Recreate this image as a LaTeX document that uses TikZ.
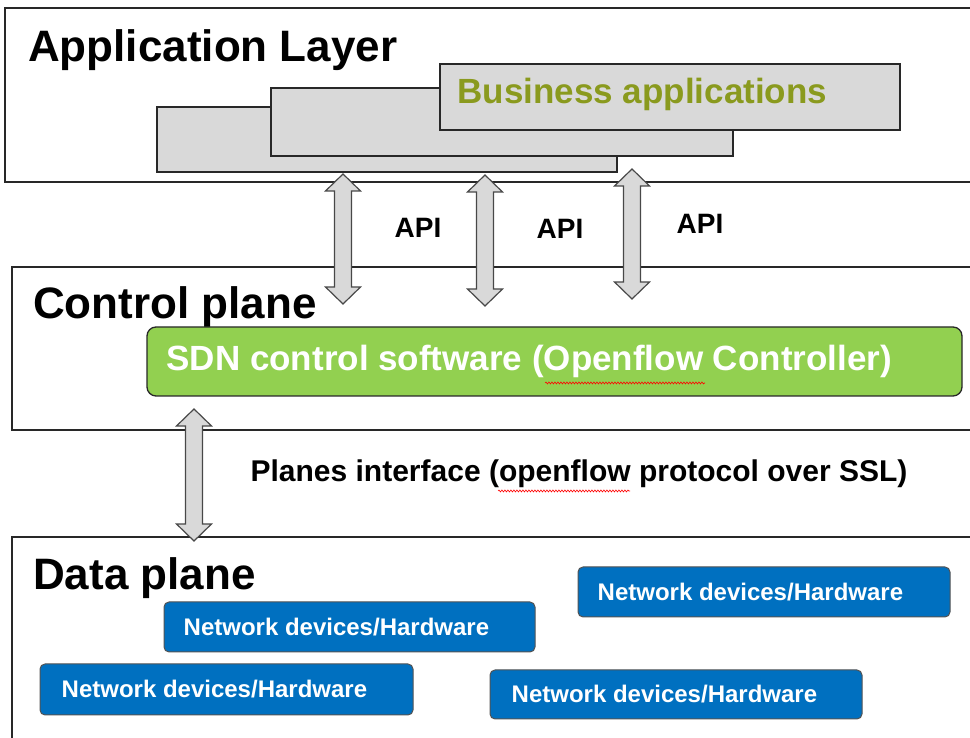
\documentclass[tikz,border=0pt]{standalone}
\usepackage{fontspec}
\setmainfont{Liberation Sans}
\usepackage{tikz}
\usetikzlibrary{calc,decorations.pathmorphing}

\definecolor{appgray}{RGB}{217,217,217}
\definecolor{sdngreen}{RGB}{146,208,80}
\definecolor{devblue}{RGB}{0,112,192}
\definecolor{bizolive}{RGB}{138,154,30}
\definecolor{lineblack}{RGB}{40,40,40}

% block arrow with a head at both ends, #1 = top end, #2 = bottom end
\newcommand{\dblarrow}[2]{%
  \draw[arrowbody] (#1) -- ++(17.5,-17) -- ++(-9,0) -- ($(#2)+(8.5,17)$) -- ++(9,0) -- (#2)
    -- ++(-17.5,17) -- ++(9,0) -- ($(#1)+(-8.5,-17)$) -- ++(-9,0) -- cycle;}

\begin{document}
\begin{tikzpicture}[x=1pt,y=1pt,
    layerbox/.style={draw=lineblack, line width=1.3pt, fill=white},
    appbox/.style={draw=lineblack, line width=1.2pt, fill=appgray, minimum width=460, minimum height=66, inner sep=0},
    layertitle/.style={font=\bfseries\fontsize{44}{48}\selectfont, inner sep=0, anchor=base west},
    greenbox/.style={draw=lineblack, line width=1.3pt, fill=sdngreen, rounded corners=9pt, inner sep=0},
    devbox/.style={draw=lineblack!80, line width=1pt, fill=devblue, rounded corners=5pt, minimum width=372, minimum height=50, inner sep=0},
    devtext/.style={text=white, font=\bfseries\fontsize{24}{27}\selectfont, inner sep=0, anchor=west},
    apitext/.style={font=\bfseries\fontsize{28}{30}\selectfont, inner sep=0},
    arrowbody/.style={draw=lineblack!85, line width=1.2pt, fill=appgray, line join=miter},
    squiggle/.style={red, line width=0.6pt, decorate, decoration={snake, amplitude=1pt, segment length=3pt}}]
        \useasboundingbox (0,0) rectangle (970,738);
        \clip (0,0) rectangle (970,738);

        % the three layers
        \draw[layerbox] (5,556) rectangle (985,730);
        \draw[layerbox] (12,308) rectangle (985,471);
        \draw[layerbox] (12,-20) rectangle (985,201);
        \node[layertitle] (apptitle) at (28,676) {Application Layer};
        \node[layertitle] (ctltitle) at (33,419) {Control plane};
        \node[layertitle] (datatitle) at (33,148) {Data plane};

        % business applications
        \node[appbox, minimum height=65] (app1) at (387,598.5) {};
        \node[appbox, minimum width=462, minimum height=68] (app2) at (502,616) {};
        \node[appbox] (app3) at (670,641) {};
        \node[text=bizolive, font=\bfseries\fontsize{35}{38}\selectfont, inner sep=0, anchor=west] (biz) at ([xshift=18,yshift=3]app3.west) {Business applications};

        % controller
        \node[greenbox, minimum width=815, minimum height=69] (sdn) at (554.5,376.5) {};
        \node[text=white, font=\bfseries\fontsize{35}{38}\selectfont, inner sep=0, anchor=west] (sdntext) at ([xshift=20,yshift=0.5]sdn.west) {SDN control software (Openflow Controller)};
        \draw[squiggle] (545,355) -- (705,355);

        % devices
        \node[devbox] (dev1) at (764,146) {};
        \node[devbox, minimum width=371] (dev2) at (349.5,111) {};
        \node[devbox, minimum width=373, minimum height=51] (dev3) at (226.5,48.5) {};
        \node[devbox, minimum height=49] (dev4) at (676,43.5) {};
        \node[devtext] at ([xshift=20]dev1.west) {Network devices/Hardware};
        \node[devtext] at ([xshift=20]dev2.west) {Network devices/Hardware};
        \node[devtext] at ([xshift=22]dev3.west) {Network devices/Hardware};
        \node[devtext] at ([xshift=22]dev4.west) {Network devices/Hardware};

        % interfaces
        \coordinate (api1top) at (343,564);
        \coordinate (api1bot) at (343,434);
        \coordinate (api2top) at (485,563);
        \coordinate (api2bot) at (485,432);
        \coordinate (api3top) at (632,569);
        \coordinate (api3bot) at (632,439);
        \coordinate (sbitop) at (194,329);
        \coordinate (sbibot) at (194,197);
        \dblarrow{api1top}{api1bot}
        \dblarrow{api2top}{api2bot}
        \dblarrow{api3top}{api3bot}
        \dblarrow{sbitop}{sbibot}
        \node[apitext] (api1) at (418,510) {API};
        \node[apitext] (api2) at (560,509) {API};
        \node[apitext] (api3) at (700,514) {API};
        \node[font=\bfseries\fontsize{30}{33}\selectfont, inner sep=0] (sbi) at (579,264) {Planes interface (openflow protocol over SSL)};
        \draw[squiggle] (498,247) -- (630,247);
    \end{tikzpicture}
\end{document}
